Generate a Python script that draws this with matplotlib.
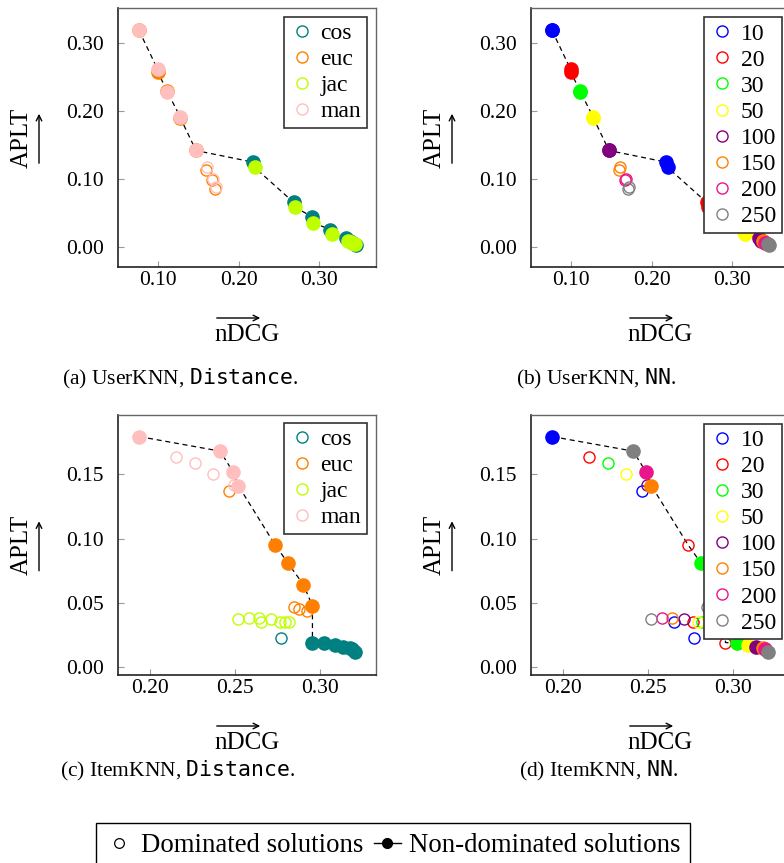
import matplotlib as mpl
mpl.use('Agg')
import matplotlib.pyplot as plt
from matplotlib.lines import Line2D
from matplotlib.patches import FancyArrowPatch
from matplotlib.ticker import FormatStrFormatter
import numpy as np

plt.rcParams['font.family'] = ['Liberation Serif', 'DejaVu Serif']
plt.rcParams['mathtext.fontset'] = 'custom'
plt.rcParams['mathtext.rm'] = 'Liberation Serif'
plt.rcParams['mathtext.tt'] = 'DejaVu Sans Mono'

# neighbourhood sizes, same order in every list below
K = [10, 20, 30, 50, 100, 150, 200, 250]
SIMS = ['cos', 'euc', 'jac', 'man']

# UserKNN (nDCG, APLT, non-dominated flag)
user_cos_ndcg = [0.2175, 0.268, 0.2905, 0.3136, 0.333, 0.3375, 0.342, 0.345]
user_cos_aplt = [0.125, 0.066, 0.045, 0.026, 0.013, 0.009, 0.0055, 0.004]
user_cos_nd = [1, 1, 1, 1, 1, 1, 1, 1]
user_euc_ndcg = [0.077, 0.100, 0.112, 0.128, 0.147, 0.1594, 0.1668, 0.171]
user_euc_aplt = [0.318, 0.257, 0.229, 0.190, 0.142, 0.114, 0.099, 0.0855]
user_euc_nd = [1, 1, 1, 1, 1, 0, 0, 0]
user_jac_ndcg = [0.220, 0.2695, 0.2917, 0.316, 0.335, 0.339, 0.3405, 0.3435]
user_jac_aplt = [0.117, 0.059, 0.036, 0.0195, 0.0098, 0.0075, 0.006, 0.0045]
user_jac_nd = [1, 1, 1, 1, 1, 1, 1, 1]
user_man_ndcg = [0.077, 0.100, 0.112, 0.128, 0.147, 0.1614, 0.168, 0.1726]
user_man_aplt = [0.318, 0.261, 0.228, 0.191, 0.143, 0.118, 0.100, 0.088]
user_man_nd = [1, 1, 1, 1, 1, 0, 0, 0]

# ItemKNN
item_cos_ndcg = [0.277, 0.2955, 0.302, 0.3088, 0.3137, 0.3175, 0.3185, 0.3205]
item_cos_aplt = [0.023, 0.0192, 0.0187, 0.0171, 0.0158, 0.0147, 0.0140, 0.0117]
item_cos_nd = [0, 1, 1, 1, 1, 1, 1, 1]
item_euc_ndcg = [0.2468, 0.2736, 0.2811, 0.2902, 0.2955, 0.2922, 0.2879, 0.2844]
item_euc_aplt = [0.1373, 0.0951, 0.0811, 0.0642, 0.0477, 0.0438, 0.0451, 0.0472]
item_euc_nd = [0, 1, 1, 1, 1, 0, 0, 0]
item_jac_ndcg = [0.2654, 0.2766, 0.282, 0.2795, 0.2711, 0.2643, 0.258, 0.2521]
item_jac_aplt = [0.0352, 0.0352, 0.0352, 0.0352, 0.0373, 0.0386, 0.0386, 0.0376]
item_jac_nd = [0, 0, 0, 0, 0, 0, 0, 0]
item_man_ndcg = [0.194, 0.2154, 0.2268, 0.2371, 0.2492, 0.2521, 0.2488, 0.2414]
item_man_aplt = [0.1793, 0.1637, 0.1585, 0.150, 0.1417, 0.141, 0.152, 0.168]
item_man_nd = [1, 0, 0, 0, 0, 1, 1, 1]

SIM_COLORS = ['#008080', '#FF8000', '#BFFF00', '#FFBFBF']
K_COLORS = ['#0000FF', '#FF0000', '#00FF00', '#FFFF00', '#800080', '#FF8000', '#E8168A', '#808080']

user = {
    'cos': (user_cos_ndcg, user_cos_aplt, user_cos_nd),
    'euc': (user_euc_ndcg, user_euc_aplt, user_euc_nd),
    'jac': (user_jac_ndcg, user_jac_aplt, user_jac_nd),
    'man': (user_man_ndcg, user_man_aplt, user_man_nd),
}
item = {
    'cos': (item_cos_ndcg, item_cos_aplt, item_cos_nd),
    'euc': (item_euc_ndcg, item_euc_aplt, item_euc_nd),
    'jac': (item_jac_ndcg, item_jac_aplt, item_jac_nd),
    'man': (item_man_ndcg, item_man_aplt, item_man_nd),
}

W, H = 784, 863
fig = plt.figure(figsize=(W / 100, H / 100), dpi=100)


def fx(x):
    return x / W


def fy(y):
    return 1 - y / H


def px_axes(l, t, r, b):
    return fig.add_axes([fx(l), fy(b), (r - l) / W, (b - t) / H])


def draw(ax, data, by_k, xlim, ylim, xticks, yticks, open_k=()):
    # pareto front line
    fx_, fy_ = [], []
    for s in SIMS:
        xs, ys, nd = data[s]
        for x, y, f in zip(xs, ys, nd):
            if f:
                fx_.append(x)
                fy_.append(y)
    order = np.lexsort((-np.array(fy_), np.array(fx_)))
    ax.plot(np.array(fx_)[order], np.array(fy_)[order], color='black', ls=(0, (4, 3)),
            lw=0.9, zorder=1)

    groups = []
    if by_k:
        for i, k in enumerate(K):
            xs = [data[s][0][i] for s in SIMS]
            ys = [data[s][1][i] for s in SIMS]
            nd = [data[s][2][i] and k not in open_k for s in SIMS]
            groups.append((K_COLORS[i], xs, ys, nd))
        labels = [str(k) for k in K]
        colors = K_COLORS
    else:
        for i, s in enumerate(SIMS):
            xs, ys, nd = data[s]
            groups.append((SIM_COLORS[i], xs, ys, nd))
        labels = SIMS
        colors = SIM_COLORS

    for c, xs, ys, nd in groups:
        xs, ys, nd = np.array(xs), np.array(ys), np.array(nd, dtype=bool)
        ax.plot(xs[~nd], ys[~nd], 'o', ls='none', mfc='none', mec=c, ms=8, mew=1.0, zorder=2)
    for c, xs, ys, nd in groups:
        xs, ys, nd = np.array(xs), np.array(ys), np.array(nd, dtype=bool)
        ax.plot(xs[nd], ys[nd], 'o', ls='none', color=c, ms=9.5, zorder=3)

    ax.set_xlim(*xlim)
    ax.set_ylim(*ylim)
    ax.set_xticks(xticks)
    ax.set_yticks(yticks)
    ax.xaxis.set_major_formatter(FormatStrFormatter('%.2f'))
    ax.yaxis.set_major_formatter(FormatStrFormatter('%.2f'))
    ax.tick_params(direction='in', length=4, width=0.8, color='#999999', labelsize=15.5,
                   top=False, right=False)
    ax.tick_params(axis='y', pad=10)
    ax.tick_params(axis='x', pad=3)
    for sp in ['left', 'bottom']:
        ax.spines[sp].set_color('#222222')
        ax.spines[sp].set_linewidth(1.2)
    for sp in ['top', 'right']:
        ax.spines[sp].set_color('#666666')
        ax.spines[sp].set_linewidth(1.0)

    handles = [Line2D([], [], ls='none', marker='o', mfc='none', mec=c, ms=8, mew=1.0)
               for c in colors]
    return handles, labels


def decorate(ax, handles, labels, leg_lt, caption, cap_xy):
    pos = ax.get_position()
    l, r = pos.x0 * W, pos.x1 * W
    t, b = (1 - pos.y1) * H, (1 - pos.y0) * H
    cx, cy = (l + r) / 2, (t + b) / 2
    # x label with arrow over it
    fig.text(fx(cx), fy(b + 68), 'nDCG', fontsize=18, ha='center', va='center')
    fig.add_artist(FancyArrowPatch((fx(cx - 33), fy(b + 51)), (fx(cx + 16), fy(b + 51)),
                                   transform=fig.transFigure, arrowstyle='->',
                                   mutation_scale=10, lw=1.0, color='black'))
    # y label with arrow beside it
    fig.text(fx(l - 96), fy(cy), 'APLT', fontsize=18, rotation=90, ha='center', va='center')
    fig.add_artist(FancyArrowPatch((fx(l - 79), fy(cy + 28.5)), (fx(l - 79), fy(cy - 26.5)),
                                   transform=fig.transFigure, arrowstyle='->',
                                   mutation_scale=10, lw=1.0, color='black'))
    leg = ax.legend(handles, labels, loc='upper left',
                    bbox_to_anchor=(fx(leg_lt[0]), fy(leg_lt[1])),
                    bbox_transform=fig.transFigure, fontsize=17, frameon=True,
                    fancybox=False, edgecolor='#333333', framealpha=1,
                    borderpad=0.25, handlelength=1.0, handletextpad=0.3,
                    labelspacing=0.19, borderaxespad=0)
    leg.get_frame().set_linewidth(1.2)
    fig.text(fx(cap_xy[0]), fy(cap_xy[1]), caption, fontsize=15.5, ha='center', va='center')


ax_a = px_axes(118, 8, 376, 267)
ax_b = px_axes(531, 8, 789, 267)
ax_c = px_axes(118, 415, 376, 675)
ax_d = px_axes(531, 415, 789, 675)

ulim = dict(xlim=(0.051, 0.370), ylim=(-0.029, 0.351),
            xticks=[0.10, 0.20, 0.30], yticks=[0.0, 0.10, 0.20, 0.30])
ilim = dict(xlim=(0.1814, 0.3328), ylim=(-0.0060, 0.1961),
            xticks=[0.20, 0.25, 0.30], yticks=[0.0, 0.05, 0.10, 0.15])

h, lab = draw(ax_a, user, False, **ulim)
decorate(ax_a, h, lab, (284, 16.7), r'(a) UserKNN, $\mathtt{Distance}$.', (180, 379))
h, lab = draw(ax_b, user, True, **ulim)
decorate(ax_b, h, lab, (704, 17.3), r'(b) UserKNN, $\mathtt{NN}$.', (596, 379))
h, lab = draw(ax_c, item, False, **ilim)
decorate(ax_c, h, lab, (284, 423), r'(c) ItemKNN, $\mathtt{Distance}$.', (178, 771))
# in the NN panel the k=20 front points are drawn as open circles
h, lab = draw(ax_d, item, True, open_k=(20,), **ilim)
decorate(ax_d, h, lab, (704, 424), r'(d) ItemKNN, $\mathtt{NN}$.', (598, 771))

bottom = [Line2D([], [], ls='none', marker='o', mfc='none', mec='black', ms=7, mew=0.9),
          Line2D([], [], color='black', lw=1.0, marker='o', ms=7, mfc='black', mec='black')]
leg = fig.legend(bottom, ['Dominated solutions', 'Non-dominated solutions'],
                 loc='upper center', bbox_to_anchor=(fx(393), fy(823)), ncol=2,
                 fontsize=19.3, frameon=True, fancybox=False, edgecolor='black',
                 framealpha=1, handlelength=1.0, handletextpad=0.3,
                 columnspacing=0.4, borderpad=0.38, borderaxespad=0)
leg.get_frame().set_linewidth(1.0)

fig.savefig('out.png', dpi=100)
